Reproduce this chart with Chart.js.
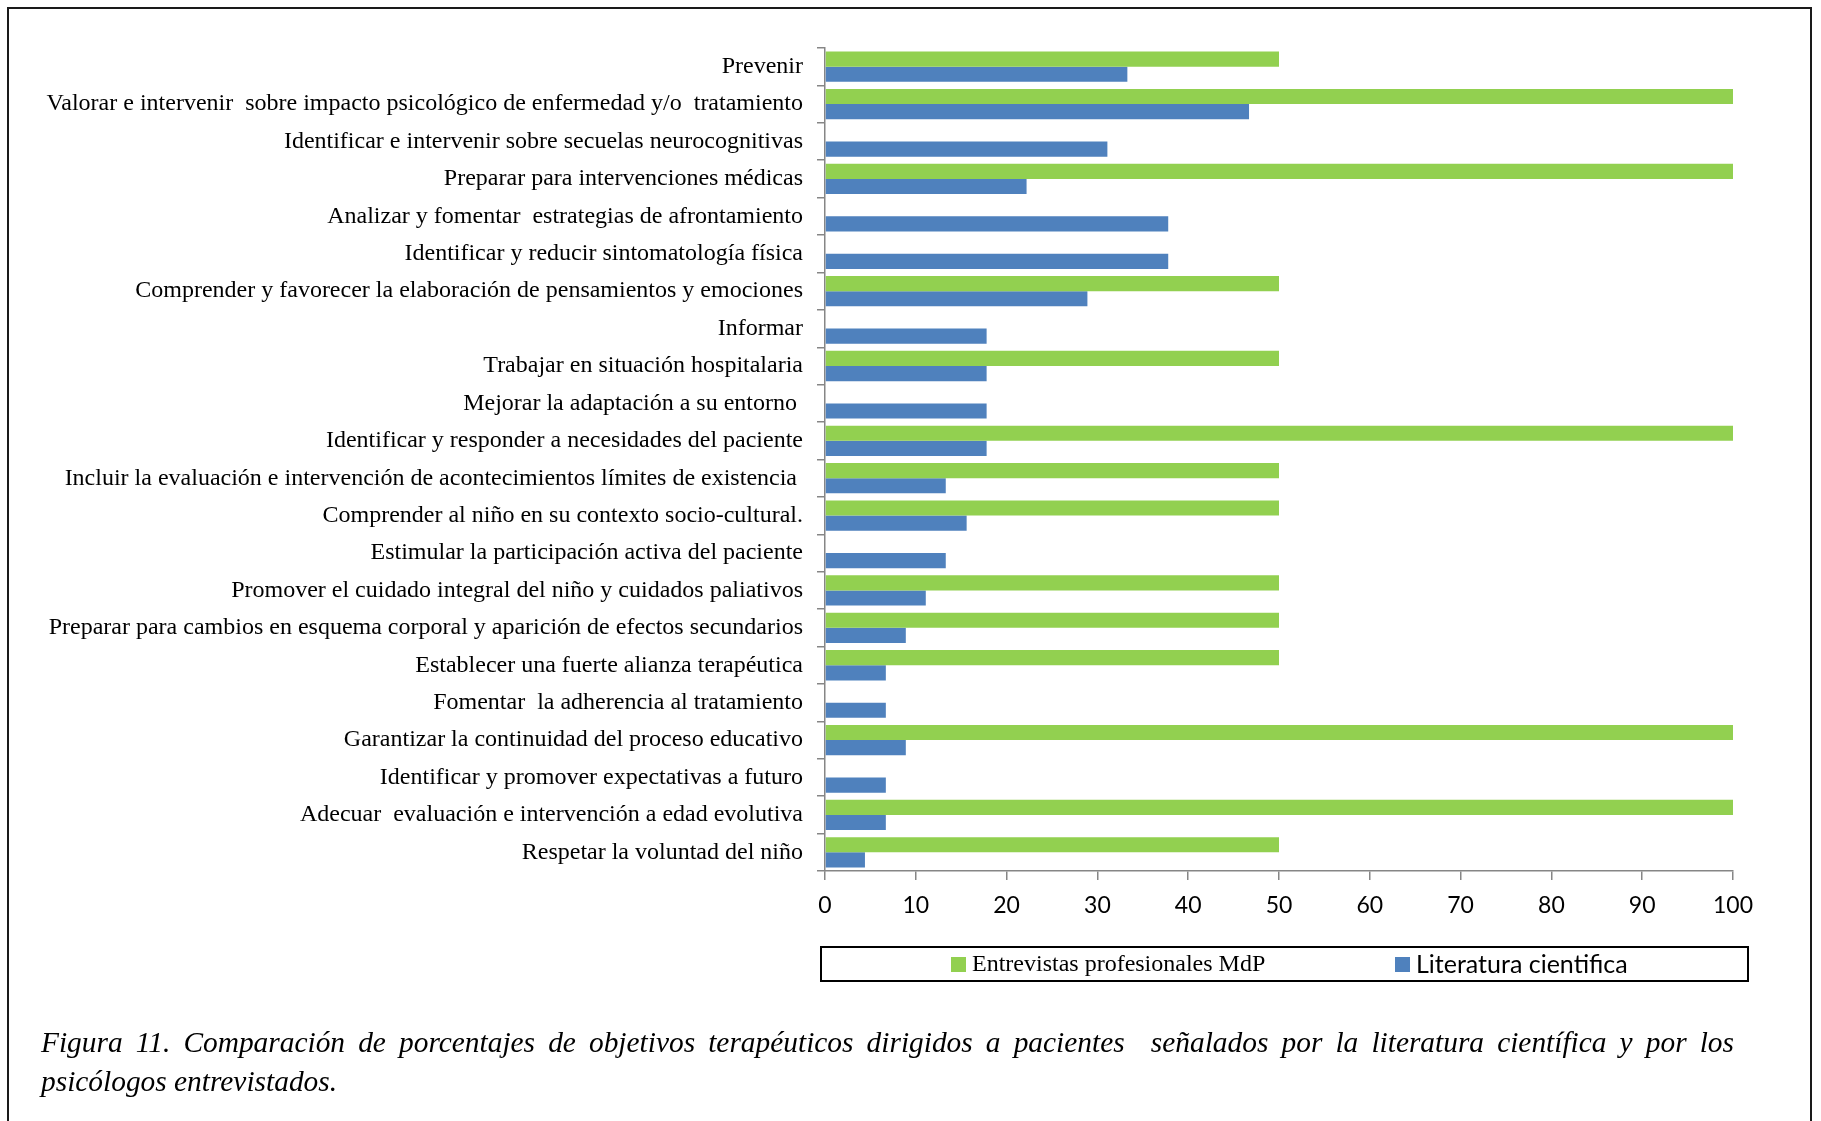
<!DOCTYPE html>
<html>
<head>
<meta charset="utf-8">
<script src="https://cdn.jsdelivr.net/npm/chart.js@4.4.1/dist/chart.umd.min.js"></script>
<style>
  html, body { margin: 0; padding: 0; background: #fff; }
  #wrap { position: relative; width: 1821px; height: 1121px; overflow: hidden; }
  #frame { position: absolute; left: 7px; top: 7px; width: 1805px; height: 1200px;
           border: 2px solid #1a1a1a; box-sizing: border-box; }
  canvas { position: absolute; left: 0; top: 0; }
  .cap { position: absolute; left: 41px; width: 1693px; font-family: "Liberation Serif", "Times New Roman", serif;
         font-style: italic; font-size: 29.4px; line-height: 39px; color: #000; white-space: pre-wrap; }
  #cap1 { top: 1023px; text-align: justify; text-align-last: justify; }
  #cap2 { top: 1062px; text-align: left; }
</style>
</head>
<body>
<div id="wrap">
  <div id="frame"></div>
  <canvas id="c" width="1821" height="1121"></canvas>
  <div class="cap" id="cap1">Figura 11. Comparación de porcentajes de objetivos terapéuticos dirigidos a pacientes  señalados por la literatura científica y por los</div>
  <div class="cap" id="cap2">psicólogos entrevistados.</div>
</div>
<script>
const categories = [
  "Prevenir",
  "Valorar e intervenir  sobre impacto psicológico de enfermedad y/o  tratamiento",
  "Identificar e intervenir sobre secuelas neurocognitivas",
  "Preparar para intervenciones médicas",
  "Analizar y fomentar  estrategias de afrontamiento",
  "Identificar y reducir sintomatología física",
  "Comprender y favorecer la elaboración de pensamientos y emociones",
  "Informar",
  "Trabajar en situación hospitalaria",
  "Mejorar la adaptación a su entorno ",
  "Identificar y responder a necesidades del paciente",
  "Incluir la evaluación e intervención de acontecimientos límites de existencia ",
  "Comprender al niño en su contexto socio-cultural.",
  "Estimular la participación activa del paciente",
  "Promover el cuidado integral del niño y cuidados paliativos",
  "Preparar para cambios en esquema corporal y aparición de efectos secundarios",
  "Establecer una fuerte alianza terapéutica",
  "Fomentar  la adherencia al tratamiento",
  "Garantizar la continuidad del proceso educativo",
  "Identificar y promover expectativas a futuro",
  "Adecuar  evaluación e intervención a edad evolutiva",
  "Respetar la voluntad del niño"
];
const entrevistas = [50, 100, 0, 100, 0, 0, 50, 0, 50, 0, 100, 50, 50, 0, 50, 50, 50, 0, 100, 0, 100, 50];
const literatura = [33.3, 46.7, 31.1, 22.2, 37.8, 37.8, 28.9, 17.8, 17.8, 17.8, 17.8, 13.3, 15.6, 13.3, 11.1, 8.9, 6.7, 6.7, 8.9, 6.7, 6.7, 4.4];
const seriesNames = ["Entrevistas profesionales MdP", "Literatura cientifica"];
const xTicks = [0, 10, 20, 30, 40, 50, 60, 70, 80, 90, 100];

const GREEN = "#92D050";
const BLUE = "#4F81BD";
const AXIS = "#868686";

const legendPlugin = {
  id: "boxLegend",
  afterDraw(chart) {
    const ctx = chart.ctx;
    ctx.save();
    ctx.strokeStyle = "#000";
    ctx.lineWidth = 2;
    ctx.strokeRect(821, 947, 927, 34);
    const ds = chart.data.datasets;
    const items = [
      { x: 951, font: '24px "Liberation Serif", serif' },
      { x: 1395, font: '25px Lato, "Open Sans", sans-serif' }
    ];
    ctx.textBaseline = "middle";
    ctx.textAlign = "left";
    items.forEach((it, i) => {
      ctx.fillStyle = ds[i].backgroundColor;
      ctx.fillRect(it.x, 957, 15, 15);
      ctx.fillStyle = "#000";
      ctx.font = it.font;
      ctx.fillText(ds[i].label, it.x + 21, 965);
    });
    ctx.restore();
  }
};

new Chart(document.getElementById("c"), {
  type: "bar",
  data: {
    labels: categories,
    datasets: [
      { label: seriesNames[0], data: entrevistas, backgroundColor: GREEN },
      { label: seriesNames[1], data: literatura, backgroundColor: BLUE }
    ]
  },
  options: {
    indexAxis: "y",
    responsive: false,
    devicePixelRatio: 1,
    animation: false,
    categoryPercentage: 0.81,
    barPercentage: 1.0,
    layout: { padding: { left: 0, right: 88, top: 48, bottom: 190 } },
    plugins: { legend: { display: false }, tooltip: { enabled: false } },
    scales: {
      y: {
        afterFit(scale) { scale.width = 825; },
        grid: { display: true, drawOnChartArea: false, drawTicks: true, tickLength: 8, color: AXIS, lineWidth: 1.5, offset: true },
        border: { display: true, color: AXIS, width: 1.5 },
        ticks: { color: "#000", padding: 14, autoSkip: false,
                 font: { family: '"Liberation Serif", "Times New Roman", serif', size: 24 } }
      },
      x: {
        min: 0, max: 100,
        afterFit(scale) { scale.height = 60; },
        afterBuildTicks(scale) { scale.ticks = xTicks.map(v => ({ value: v })); },
        grid: { display: true, drawOnChartArea: false, drawTicks: true, tickLength: 9, color: AXIS, lineWidth: 1.5 },
        border: { display: true, color: AXIS, width: 1.5 },
        ticks: { color: "#000", padding: 12, font: { family: 'Lato, "Open Sans", sans-serif', size: 23 } }
      }
    }
  },
  plugins: [legendPlugin]
});
</script>
</body>
</html>
